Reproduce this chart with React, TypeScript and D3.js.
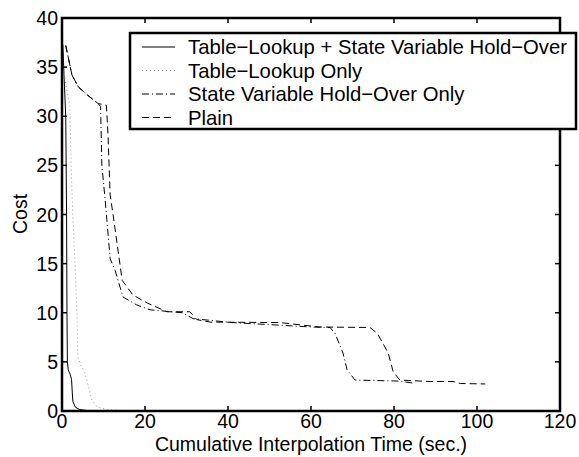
import { useEffect, useRef } from 'react';
import * as d3 from 'd3';

// series: [time (sec.), cost]
const comboSeries: [number, number][] = [
  [0.2, 37.3], [0.6, 33], [0.9, 30], [1.1, 20], [1.2, 10], [1.3, 5], [1.5, 4.2],
  [2.0, 3.7], [2.3, 3.2], [2.6, 1.0], [3.2, 0.4], [4.2, 0.15], [6, 0.05], [12, 0.02],
];
const lookupSeries: [number, number][] = [
  [0.2, 35.5], [1.0, 33], [1.9, 31], [2.2, 25], [2.6, 20], [3.3, 13.3], [3.6, 10],
  [3.8, 5.5], [4.6, 4.6], [5.5, 3.9], [6.2, 2.8], [7.2, 1.1], [8.5, 0.4], [11, 0.15],
  [14, 0.05], [19, 0.03],
];
const holdOverSeries: [number, number][] = [
  [0.9, 37.2], [2.4, 34.2], [3.9, 33], [6, 32.2], [8.7, 31.3], [9.3, 31], [9.6, 25],
  [10.4, 21.5], [11.6, 15.5], [12.8, 14.3], [14.7, 11.6], [18, 10.8], [21.2, 10.3],
  [29, 10.0], [31.6, 9.4], [41, 9.0], [51.8, 8.75], [60, 8.55], [64.6, 8.5], [65.8, 7.9],
  [67.7, 5.9], [68.7, 4.2], [70.6, 3.15], [80.7, 3.05], [84.6, 2.85],
];
const plainSeries: [number, number][] = [
  [0.9, 37.2], [2.4, 34.2], [3.9, 33], [6, 32.2], [8.7, 31.3], [10.7, 31.1], [11.1, 28],
  [11.6, 22], [12.3, 20], [14.5, 13.3], [17.1, 11.8], [20.5, 11.0], [25.3, 10.1],
  [30.8, 10.1], [32.5, 9.3], [35.7, 9.05], [52.5, 9.0], [62, 8.55], [74.2, 8.5],
  [76, 7.9], [78.6, 5.9], [79.8, 4.0], [81.4, 3.15], [88.7, 3.0], [94.2, 3.0],
  [96, 2.8], [102, 2.75],
];

const seriesNames = [
  'Table\u2212Lookup + State Variable Hold\u2212Over',
  'Table\u2212Lookup Only',
  'State Variable Hold\u2212Over Only',
  'Plain',
];
const seriesData = [comboSeries, lookupSeries, holdOverSeries, plainSeries];
const seriesColors = ['#000', '#999', '#000', '#000'];
const seriesDash = ['none', '1,3', '7,3,1,3', '7,4'];

const xTicks = [0, 20, 40, 60, 80, 100, 120];
const yTicks = [0, 5, 10, 15, 20, 25, 30, 35, 40];

const App = () => {
  const svgRef = useRef<SVGSVGElement>(null);

  useEffect(() => {
    const svg = d3.select(svgRef.current);
    svg.selectAll('*').remove();

    const left = 62, right = 560, top = 18, bottom = 411;
    const x = d3.scaleLinear().domain([0, 120]).range([left, right]);
    const y = d3.scaleLinear().domain([0, 40]).range([bottom, top]);
    const font = 'Liberation Sans, Arial, Helvetica, sans-serif';
    const fs = 19.5;

    svg.append('rect').attr('width', 579).attr('height', 457).attr('fill', '#fff');

    // curves
    const line = d3.line<[number, number]>().x(d => x(d[0])).y(d => y(d[1]));
    seriesData.forEach((s, i) => {
      svg.append('path')
        .attr('d', line(s))
        .attr('fill', 'none')
        .attr('stroke', seriesColors[i])
        .attr('stroke-width', 1)
        .attr('stroke-dasharray', seriesDash[i]);
    });

    // ticks on all sides, pointing in
    const tl = 5;
    const ticks = svg.append('g').attr('stroke', '#000').attr('stroke-width', 1.5);
    xTicks.forEach(t => {
      ticks.append('line').attr('x1', x(t)).attr('x2', x(t)).attr('y1', bottom).attr('y2', bottom - tl);
      ticks.append('line').attr('x1', x(t)).attr('x2', x(t)).attr('y1', top).attr('y2', top + tl);
    });
    yTicks.forEach(t => {
      ticks.append('line').attr('x1', left).attr('x2', left + tl).attr('y1', y(t)).attr('y2', y(t));
      ticks.append('line').attr('x1', right).attr('x2', right - tl).attr('y1', y(t)).attr('y2', y(t));
    });

    svg.append('rect')
      .attr('x', left).attr('y', top)
      .attr('width', right - left).attr('height', bottom - top)
      .attr('fill', 'none').attr('stroke', '#000').attr('stroke-width', 2.5);

    // tick labels
    svg.append('g').selectAll('text').data(xTicks).enter().append('text')
      .attr('x', d => x(d)).attr('y', 428)
      .attr('text-anchor', 'middle')
      .attr('font-family', font).attr('font-size', fs)
      .text(d => d);
    svg.append('g').selectAll('text').data(yTicks).enter().append('text')
      .attr('x', 58).attr('y', d => y(d) + 7)
      .attr('text-anchor', 'end')
      .attr('font-family', font).attr('font-size', fs)
      .text(d => d);

    // axis titles
    svg.append('text')
      .attr('x', 311).attr('y', 451)
      .attr('text-anchor', 'middle')
      .attr('font-family', font).attr('font-size', fs)
      .text('Cumulative Interpolation Time (sec.)');
    svg.append('text')
      .attr('transform', 'translate(27, 214) rotate(-90)')
      .attr('text-anchor', 'middle')
      .attr('font-family', font).attr('font-size', fs)
      .text('Cost');

    // legend
    const legend = svg.append('g');
    legend.append('rect')
      .attr('x', 130).attr('y', 33).attr('width', 446).attr('height', 96)
      .attr('fill', '#fff').attr('stroke', '#000').attr('stroke-width', 2.5);
    seriesNames.forEach((name, i) => {
      const ry = 47 + i * 23.5;
      legend.append('line')
        .attr('x1', 142).attr('x2', 175).attr('y1', ry).attr('y2', ry)
        .attr('stroke', seriesColors[i]).attr('stroke-width', 1)
        .attr('stroke-dasharray', seriesDash[i]);
      legend.append('text')
        .attr('x', 188).attr('y', ry + 7)
        .attr('font-family', font).attr('font-size', 20.3)
        .text(name);
    });
  }, []);

  return (
    <svg ref={svgRef} width={579} height={457}
      style={{ position: 'absolute', left: 0, top: 0, display: 'block' }} />
  );
};

export default App;
